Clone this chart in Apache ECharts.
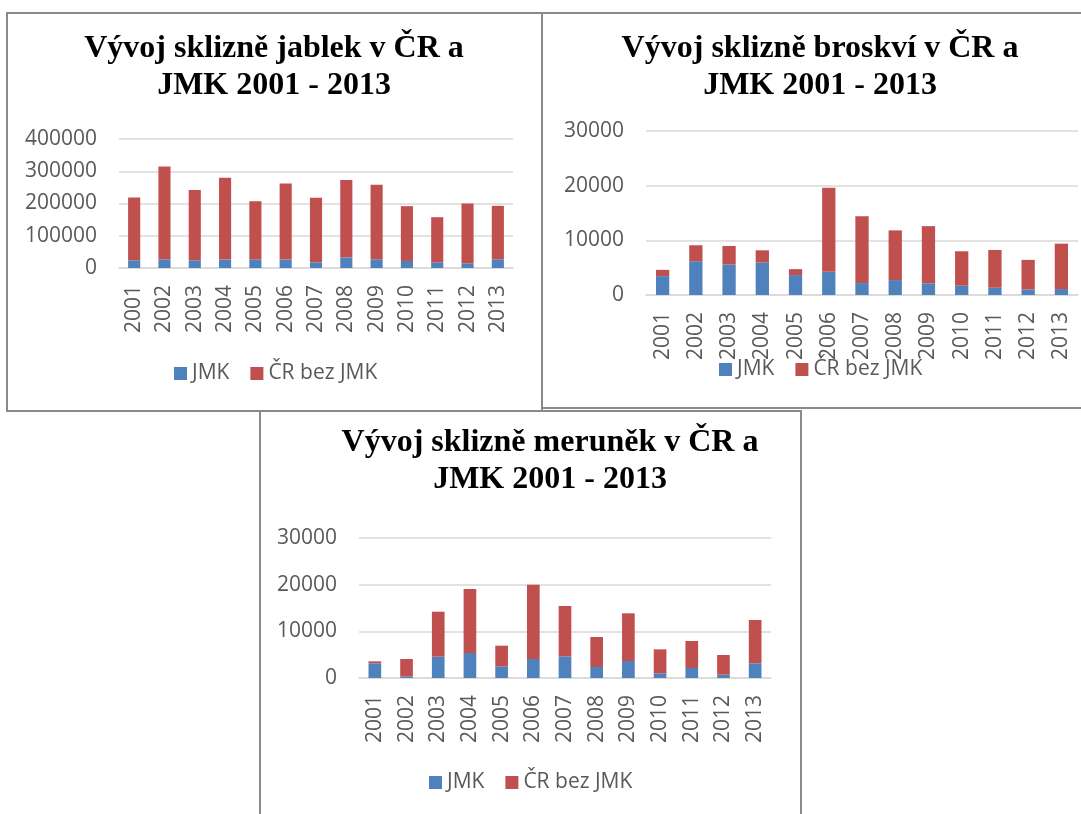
<!DOCTYPE html>
<html>
<head>
<meta charset="utf-8">
<script src="https://cdn.jsdelivr.net/npm/echarts@6/dist/echarts.min.js"></script>
<style>
  html, body { margin: 0; padding: 0; background: #fff; }
  #main { width: 1081px; height: 814px; }
</style>
</head>
<body>
<div id="main"></div>
<script>
var years = ['2001', '2002', '2003', '2004', '2005', '2006', '2007', '2008', '2009', '2010', '2011', '2012', '2013'];
var seriesNames = ['JMK', 'ČR bez JMK'];

// jablka
var jablkaJMK = [24000, 27000, 24000, 26000, 26000, 26000, 17600, 33000, 27000, 21800, 17600, 14500, 27000];
var jablkaCR = [194600, 288000, 217500, 254000, 181000, 236000, 200000, 239500, 231000, 169900, 139900, 185500, 165700];
// broskve
var broskveJMK = [3450, 6180, 5580, 5940, 3640, 4240, 2180, 2730, 2120, 1700, 1330, 1030, 1090];
var broskveCR = [1150, 2920, 3390, 2240, 1090, 15400, 12240, 9090, 10480, 6300, 6910, 5390, 8300];
// merunky
var merunkyJMK = [3140, 360, 4570, 5360, 2500, 4070, 4640, 2360, 3640, 1000, 2140, 710, 3140];
var merunkyCR = [430, 3710, 9640, 13710, 4430, 15930, 10790, 6430, 10220, 5140, 5790, 4220, 9290];

var titles = [
    'Vývoj sklizně jablek v ČR a\nJMK 2001 - 2013',
    'Vývoj sklizně broskví v ČR a\nJMK 2001 - 2013',
    'Vývoj sklizně meruněk v ČR a\nJMK 2001 - 2013'
];

var labelFont = '"Open Sans", Lato, sans-serif';
var gray = '#595959';
var blue = '#4F81BD';
var red = '#C0504D';

function makeTitle(text, x, y) {
    return {
        text: text, left: x, top: y, textAlign: 'center', padding: 0,
        textStyle: { fontFamily: '"Liberation Serif", "Times New Roman", serif', fontWeight: 'bold', fontSize: 32, lineHeight: 37, color: '#000' }
    };
}

function makeLegend(x, y) {
    return {
        left: x, top: y, padding: 0, itemWidth: 13, itemHeight: 13, itemGap: 21, icon: 'rect',
        data: seriesNames,
        textStyle: { fontFamily: labelFont, fontSize: 21, color: gray }
    };
}

function makeX(i) {
    return {
        type: 'category', gridIndex: i, data: years,
        axisTick: { show: false },
        axisLine: { lineStyle: { color: '#d9d9d9', width: 1.5 } },
        axisLabel: { rotate: 90, margin: 17, fontFamily: labelFont, fontSize: 21, color: gray }
    };
}

function makeY(i, max, step) {
    return {
        type: 'value', gridIndex: i, min: 0, max: max, interval: step,
        axisLine: { show: false }, axisTick: { show: false },
        splitLine: { lineStyle: { color: '#d9d9d9', width: 1.5 } },
        axisLabel: { margin: 22, fontFamily: labelFont, fontSize: 21, color: gray, formatter: function (v) { return String(v); } }
    };
}

function makeBars(i, jmk, cr) {
    return [
        { name: seriesNames[0], type: 'bar', stack: 's' + i, xAxisIndex: i, yAxisIndex: i, barWidth: '40%', itemStyle: { color: blue }, data: jmk },
        { name: seriesNames[1], type: 'bar', stack: 's' + i, xAxisIndex: i, yAxisIndex: i, barWidth: '40%', itemStyle: { color: red }, data: cr }
    ];
}

function box(x, y, w, h) {
    return { type: 'rect', shape: { x: x, y: y, width: w, height: h }, style: { fill: 'none', stroke: '#8a8a8a', lineWidth: 2 }, z: 100 };
}

var chart = echarts.init(document.getElementById('main'));
chart.setOption({
    animation: false,
    color: [blue, red],
    graphic: [box(7, 13, 535, 398), box(542, 13, 560, 395), box(260, 411, 541, 420)],
    title: [makeTitle(titles[0], 274, 30), makeTitle(titles[1], 820, 30), makeTitle(titles[2], 550, 424)],
    legend: [makeLegend(174, 363), makeLegend(719, 359), makeLegend(429, 772)],
    grid: [
        { left: 119, top: 139, width: 394, height: 129 },
        { left: 646, top: 131, width: 432, height: 164 },
        { left: 359, top: 538, width: 412, height: 140 }
    ],
    xAxis: [makeX(0), makeX(1), makeX(2)],
    yAxis: [makeY(0, 400000, 100000), makeY(1, 30000, 10000), makeY(2, 30000, 10000)],
    series: [].concat(makeBars(0, jablkaJMK, jablkaCR), makeBars(1, broskveJMK, broskveCR), makeBars(2, merunkyJMK, merunkyCR))
});
</script>
</body>
</html>
